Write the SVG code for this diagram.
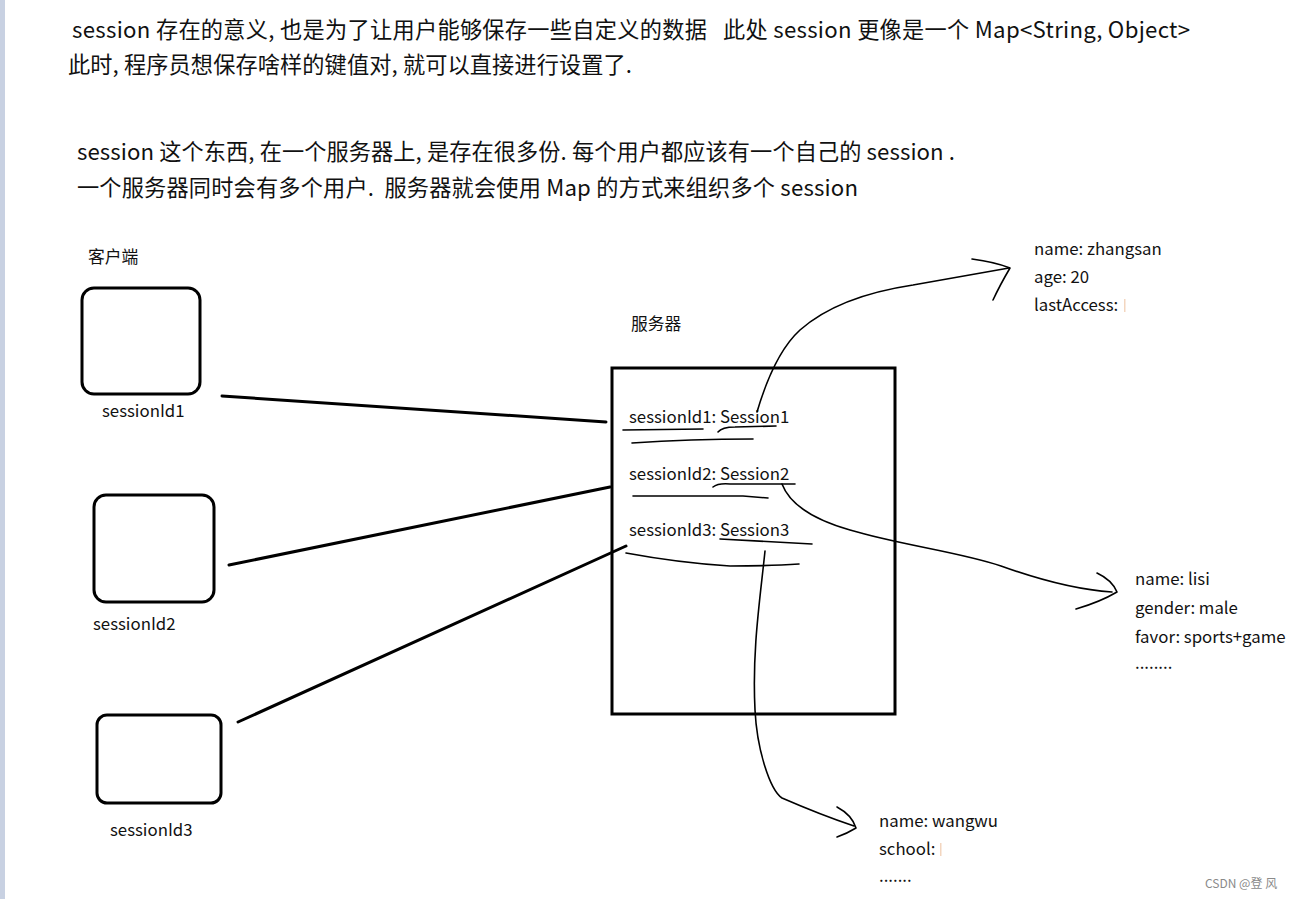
<svg xmlns="http://www.w3.org/2000/svg" width="1298" height="899" viewBox="0 0 1298 899">
<style>
text{font-family:"Noto Sans CJK SC","Noto Sans",sans-serif;fill:#111;white-space:pre;}
.h{font-size:22.2px;}
.m{font-size:16.8px;}
.s{font-size:16.8px;}
.box{fill:none;stroke:#000;stroke-width:3;}
.ln{fill:none;stroke:#000;stroke-width:3;stroke-linecap:round;}
.pen{fill:none;stroke:#000;stroke-width:1.6;stroke-linecap:round;stroke-linejoin:round;}
</style>
<rect width="1298" height="899" fill="#fff"/>
<rect x="0" y="0" width="5" height="899" fill="#c8d1e2"/>
<g id="header">
<text class="h" x="72" y="38" textLength="1118" xml:space="preserve">session 存在的意义, 也是为了让用户能够保存一些自定义的数据   此处 session 更像是一个 Map&lt;String, Object&gt;</text>
<text class="h" x="68" y="73" textLength="564">此时, 程序员想保存啥样的键值对, 就可以直接进行设置了.</text>
<text class="h" x="77" y="160" textLength="878">session 这个东西, 在一个服务器上, 是存在很多份. 每个用户都应该有一个自己的 session .</text>
<text class="h" x="77" y="196" textLength="781" xml:space="preserve">一个服务器同时会有多个用户.  服务器就会使用 Map 的方式来组织多个 session</text>
</g>
<text class="m" x="88" y="263">客户端</text>
<g id="client1">
<rect class="box" x="82" y="288" width="118" height="106" rx="12"/>
<text class="m" x="102" y="417">sessionId1</text>
</g>
<g id="client2">
<rect class="box" x="94" y="495" width="120" height="107" rx="12"/>
<text class="m" x="93" y="630">sessionId2</text>
</g>
<g id="client3">
<rect class="box" x="97" y="715" width="124" height="88" rx="10"/>
<text class="m" x="110" y="836">sessionId3</text>
</g>
<g id="server">
<text class="m" x="631" y="330">服务器</text>
<rect class="box" x="612" y="368" width="283" height="346"/>
<text class="s" x="629" y="423">sessionId1: Session1</text>
<text class="s" x="629" y="480">sessionId2: Session2</text>
<text class="s" x="629" y="536">sessionId3: Session3</text>
<path class="pen" d="M623,430 L703,429"/>
<path class="pen" d="M718,432 Q722,427 735,427 L776,426"/>
<path class="pen" d="M632,443 Q690,439 753,439"/>
<path class="pen" d="M713,487 Q718,483 730,484 L795,484"/>
<path class="pen" d="M633,496 L743,496 L768,498"/>
<path class="pen" d="M720,539 Q760,541 812,544"/>
<path class="pen" d="M626,553 Q680,563 730,566 Q770,566 799,564"/>
</g>
<g id="session1">
<text class="m" x="1034" y="255">name: zhangsan</text>
<text class="m" x="1034" y="283">age: 20</text>
<text class="m" x="1034" y="311">lastAccess: </text>
<rect x="1124" y="299" width="1.5" height="13" fill="#f3d6bf"/>
</g>
<g id="session2">
<text class="m" x="1135" y="585">name: lisi</text>
<text class="m" x="1135" y="614">gender: male</text>
<text class="m" x="1135" y="643">favor: sports+game</text>
<text class="m" x="1135" y="669">........</text>
</g>
<g id="session3">
<text class="m" x="879" y="827">name: wangwu</text>
<text class="m" x="879" y="855">school:</text>
<rect x="940" y="843" width="1.5" height="13" fill="#f3d6bf"/>
<text class="m" x="879" y="882">.......</text>
</g>
<g id="connectors">
<path class="ln" d="M222,396 L606,422"/>
<path class="ln" d="M229,565 L610,487"/>
<path class="ln" d="M238,722 L626,546"/>
<path class="pen" d="M757,412 C765,385 778,350 800,330 C825,308 860,293 913,285 L1009,268"/>
<path class="pen" d="M972,259 Q995,262 1010,268 Q1000,285 993,300"/>
<path class="pen" d="M782,484 C790,505 815,520 850,530 C900,545 960,552 1001,566 C1040,580 1080,590 1112,592"/>
<path class="pen" d="M1097,573 Q1112,580 1117,592 Q1100,602 1076,609"/>
<path class="pen" d="M765,551 C760,600 752,650 755,710 C757,750 770,790 782,798 C805,808 830,818 854,826"/>
<path class="pen" d="M837,807 Q852,815 856,828 Q848,833 837,837"/>
</g>
<text x="1205" y="888" style="font-size:12px;fill:#8a8a8a">CSDN @登 风</text>
</svg>
